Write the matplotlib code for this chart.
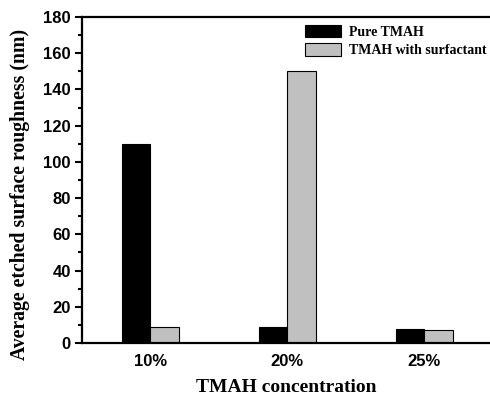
import numpy as np
import matplotlib.pyplot as plt

categories = ["10%", "20%", "25%"]
pure = [110, 9, 8]
surf = [9, 150, 7]

x = np.arange(1, len(categories) + 1)
w = 0.21

fig = plt.figure(figsize=(4.9, 3.96), dpi=100)
ax = fig.add_axes([82/490, 1 - 343/396, 1 - 82/490, (343 - 17)/396])

ax.bar(x - w/2, pure, w, color="black", edgecolor="black", linewidth=0.8, label="Pure TMAH")
ax.bar(x + w/2, surf, w, color="#c0c0c0", edgecolor="black", linewidth=0.8, label="TMAH with surfactant")

ax.set_xlim(0.5, 3.48)
ax.set_ylim(0, 180)
ax.set_yticks(np.arange(0, 181, 20))
ax.set_yticks(np.arange(10, 180, 20), minor=True)
ax.set_xticks(x)
ax.set_xticklabels(categories)

for s in ["left", "top", "bottom", "right"]:
    ax.spines[s].set_linewidth(1.6)
ax.spines["right"].set_visible(False)

ax.tick_params(axis="y", which="major", direction="out", length=5, width=1.5, pad=3)
ax.tick_params(axis="y", which="minor", direction="out", length=3, width=1.5)
ax.tick_params(axis="x", length=0, pad=8)
for lab in ax.get_xticklabels() + ax.get_yticklabels():
    lab.set_family("Liberation Sans")
    lab.set_fontweight("bold")
    lab.set_fontsize(12)

ax.set_xlabel("TMAH concentration", family="Liberation Serif", fontweight="bold",
              fontsize=14, labelpad=7)
ax.set_ylabel("Average etched surface roughness (nm)", family="Liberation Serif",
              fontweight="bold", fontsize=14.2)
ax.yaxis.set_label_coords(-0.128, 0.457)

ax.legend(loc="upper left", bbox_to_anchor=(0.515, 1.015), frameon=False,
          prop={"family": "Liberation Serif", "size": 10, "weight": "bold"},
          handlelength=2.6, handleheight=1.0, labelspacing=0.35, handletextpad=0.6)

plt.savefig("out.png", dpi=100)
